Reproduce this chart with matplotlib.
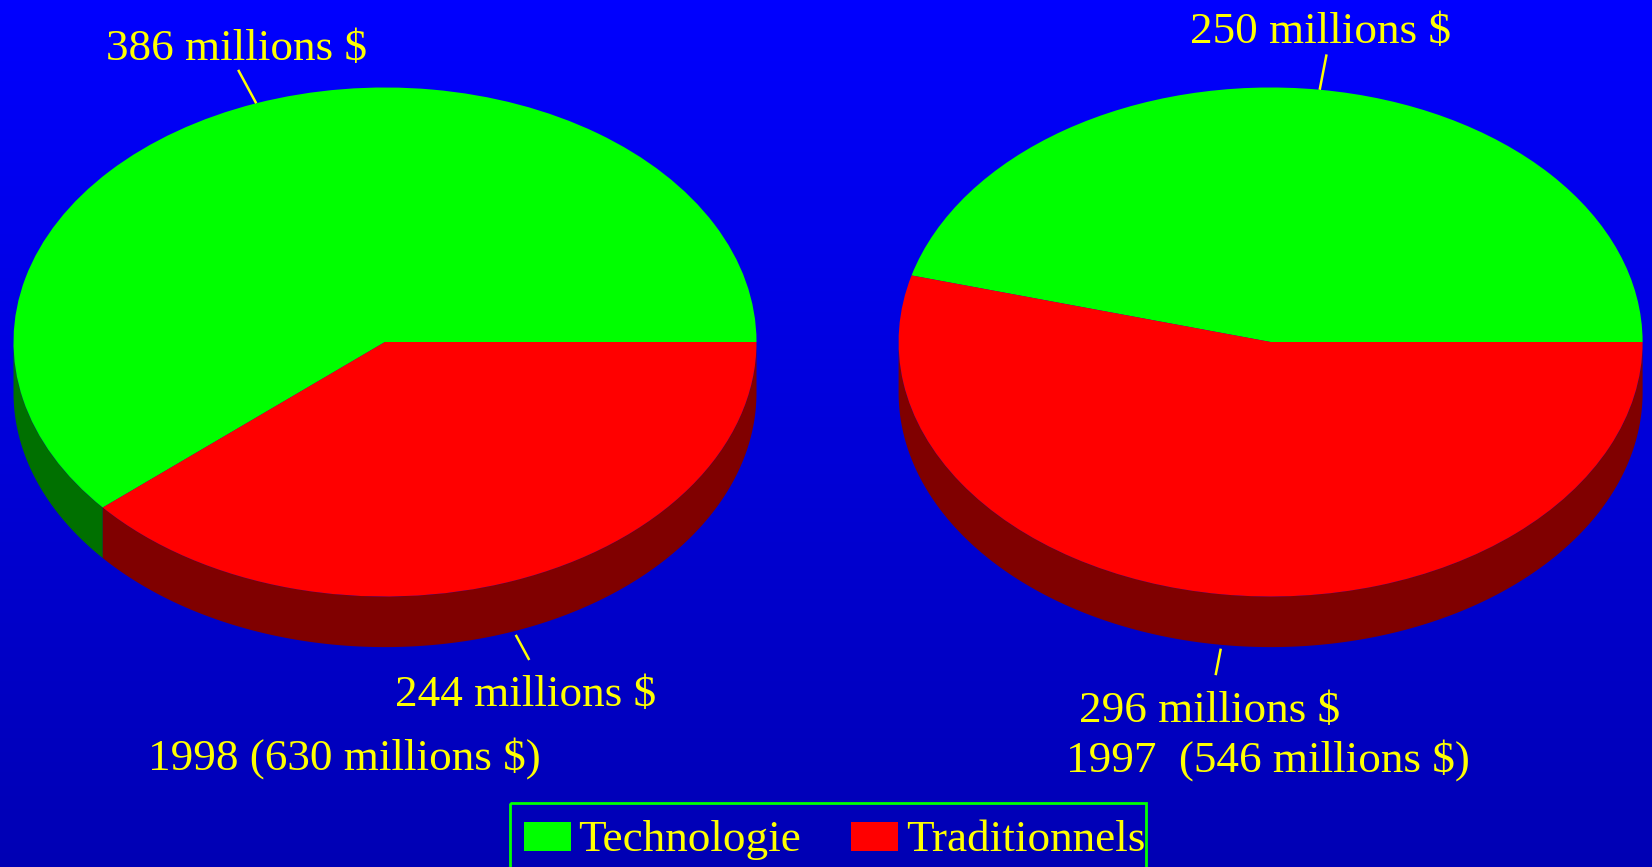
import numpy as np
import matplotlib
matplotlib.use('Agg')
import matplotlib.pyplot as plt
from matplotlib.colors import LinearSegmentedColormap
from matplotlib.patches import Rectangle

# --- data ---
years = ['1998', '1997']
categories = ['Technologie', 'Traditionnels']
tech = [386, 250]
trad = [244, 296]
totals = [630, 546]

top_colors = ['#00FF00', '#FF0000']
side_colors = ['#007000', '#800000']
yellow = '#FFFF00'

plt.rcParams['font.family'] = 'Liberation Serif'

W, H = 1652, 867
fig = plt.figure(figsize=(W / 100, H / 100), dpi=100)

# background gradient, pixel coords (y down)
bg = fig.add_axes([0, 0, 1, 1], zorder=0)
grad = np.linspace(0, 1, 256).reshape(-1, 1)
cmap = LinearSegmentedColormap.from_list('bg', ['#0000FF', '#0000B4'])
bg.imshow(grad, aspect='auto', cmap=cmap, extent=[0, W, H, 0])
bg.set_xlim(0, W)
bg.set_ylim(H, 0)
bg.axis('off')

# pie geometry in pixels: centre, radii, thickness
pies = [(385.0, 342.0, 371.5, 254.5), (1270.6, 342.0, 372.0, 254.5)]
depth_px = 50.6

for i in range(2):
    cx, cy, rx, ry = pies[i]
    d = depth_px / ry
    vals = [tech[i], trad[i]]
    ax = fig.add_axes([0, 0, 1, 1], zorder=1)
    ax.patch.set_alpha(0)
    wedges, _ = ax.pie(vals, colors=top_colors, startangle=0, counterclock=True,
                       radius=1, wedgeprops=dict(linewidth=0))
    ax.set_aspect('auto')
    ax.set_xlim(-cx / rx, (W - cx) / rx)
    ax.set_ylim((cy - H) / ry, cy / ry)
    ax.axis('off')

    for w, sc in zip(wedges, side_colors):
        # front wall of the slice
        a = max(w.theta1, 180)
        b = min(w.theta2, 360)
        if b > a:
            t = np.radians(np.linspace(a, b, 200))
            xs = np.concatenate([np.cos(t), np.cos(t[::-1])])
            ys = np.concatenate([np.sin(t), np.sin(t[::-1]) - d])
            ax.fill(xs, ys, color=sc, lw=0, zorder=0.5)
        # leader line
        mid = np.radians((w.theta1 + w.theta2) / 2)
        if np.sin(mid) < 0:
            r = np.array([1.015, 1.12])
            off = -d
        else:
            r = np.array([1.0, 1.14])
            off = 0
        ax.plot(r * np.cos(mid), r * np.sin(mid) + off, color=yellow, lw=1.8,
                solid_capstyle='butt')

# labels (pixel coords, baseline)
fs = 32.5
txt = dict(color=yellow, fontsize=fs, va='baseline', ha='center')
bg.text(236, 60, f'{tech[0]} millions $', **txt)
bg.text(526, 706, f'{trad[0]} millions $', **txt)
bg.text(344, 770, f'{years[0]} ({totals[0]} millions $)', **txt)
bg.text(1321, 43, f'{tech[1]} millions $', **txt)
bg.text(1210, 722, f'{trad[1]} millions $', **txt)
bg.text(1268, 772, f'{years[1]}  ({totals[1]} millions $)', **txt)

# legend
bg.add_patch(Rectangle((510, 803), 636, 100, fc='none', ec='#00FF00', lw=2))
for x0, xt, lab, col in [(524, 578, categories[0], top_colors[0]),
                         (851, 906, categories[1], top_colors[1])]:
    bg.add_patch(Rectangle((x0, 822), 47, 29, fc=col, ec='none'))
    bg.text(xt, 851, lab, color=yellow, fontsize=fs, va='baseline', ha='left')

fig.savefig('out.png', dpi=100)
